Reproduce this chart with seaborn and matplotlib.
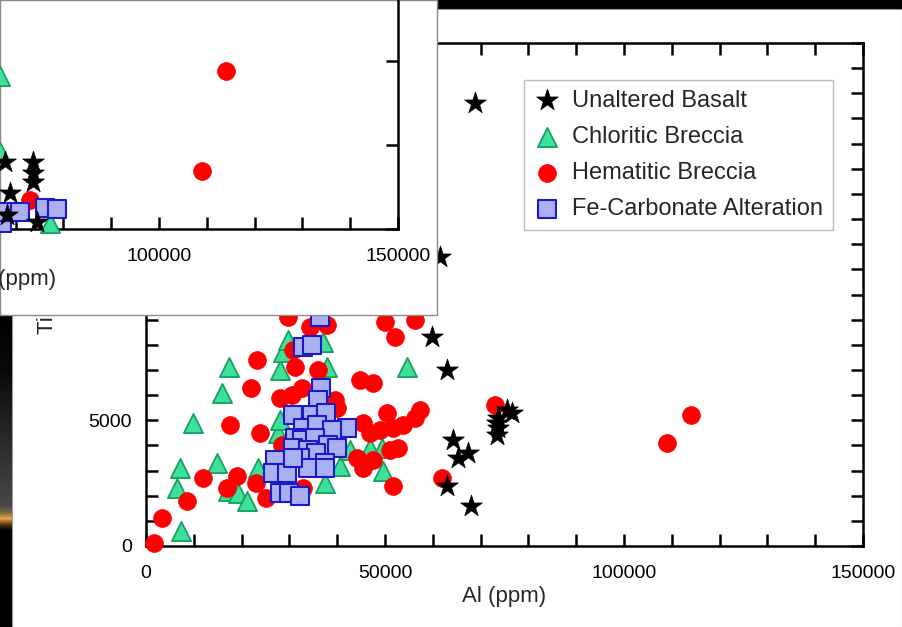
import numpy as np
import pandas as pd
import matplotlib
matplotlib.use("Agg")
import matplotlib.pyplot as plt
from matplotlib.patches import Rectangle
from matplotlib.ticker import FuncFormatter, FixedLocator
import seaborn as sns

# ---------------- data (main chart: Ti vs Al, ppm) ----------------
basalt_al = [68900, 61500, 59900, 63000, 75600, 76600, 73700, 73500, 73700, 73500,
             64300, 65300, 67400, 63000, 68000]
basalt_ti = [17600, 11500, 8300, 7000, 5400, 5300, 5100, 4900, 4700, 4400,
             4200, 3500, 3700, 2400, 1600]

chlor_al = [7300, 6500, 7100, 9800, 15900, 17400, 14900, 17200, 19300, 21100,
            23400, 28000, 28700, 29700, 27600, 28000, 37900, 37000, 40600, 42700,
            46900, 49400, 49600, 37500, 54600]
chlor_ti = [600, 2300, 3100, 4900, 6100, 7100, 3300, 2200, 2100, 1800,
            3100, 7000, 7700, 8200, 4500, 5000, 7100, 8100, 3200, 3800,
            3900, 3900, 3000, 2500, 7100]

hem_al = [1700, 3300, 8600, 11900, 17600, 22000, 23200, 19000, 17000, 23000,
          25100, 28500, 30600, 31200, 30800, 29700, 50000, 52100, 56300, 44800,
          47500, 36000, 37900, 34300, 32600, 39600, 40000, 45400, 50400, 46900,
          49000, 51700, 53800, 57400, 56300, 52700, 51100, 44200, 47500, 45400,
          51700, 28000, 32900, 23900, 73000, 62000, 109000, 114000]
hem_ti = [100, 1100, 1800, 2700, 4800, 6300, 7400, 2800, 2300, 2500,
          1900, 4000, 6000, 7100, 7800, 9100, 8900, 8300, 9000, 6600,
          6500, 7000, 8800, 8700, 6300, 5800, 5500, 4900, 5300, 4500,
          4600, 4700, 4800, 5400, 5100, 3900, 3800, 3500, 3400, 3100,
          2400, 5900, 2300, 4500, 5600, 2700, 4100, 5200]

carb_al = [36400, 32900, 34700, 36600, 36000, 30800, 34700, 37700, 42100, 32900,
           35800, 38900, 31200, 32700, 35400, 38100, 40000, 30800, 33900, 35600,
           37500, 32200, 27000, 26600, 29500, 33900, 37500, 28000, 29900, 32200,
           30800]
carb_ti = [9100, 7900, 8000, 6300, 5800, 5200, 5200, 5300, 4700, 4700,
           4800, 4600, 4300, 4200, 4300, 4000, 3900, 3900, 3800, 3700,
           3300, 3500, 3400, 2900, 2900, 3100, 3100, 2100, 2100, 2000,
           3500]

# ---------------- data (overlapping inset chart, same Al axis) ----------------
in_basalt_al = [67800, 73600, 73600, 73600, 68800, 68200, 74500]
in_basalt_y = [80, 80, 67, 56, 43, 17, 8]
in_hem_al = [73000, 109000, 114000]
in_hem_y = [35, 69, 188]
in_carb_al = [67200, 68400, 70900, 76200, 78700]
in_carb_y = [7, 20, 20, 25, 24]
in_chlor_al = [66700, 66700, 77200]
in_chlor_y = [183, 92, 7]

labels = ["Unaltered Basalt", "Chloritic Breccia", "Hematitic Breccia",
          "Fe-Carbonate Alteration"]
x_ticklabels = [0, 50000, 100000, 150000]
y_ticklabels = [0, 5000, 10000, 15000, 20000]

# ---------------- style ----------------
sns.set_theme(style="white")
plt.rcParams["font.family"] = ["Liberation Sans", "DejaVu Sans"]

W, H = 903, 627
fig = plt.figure(figsize=(W / 100, H / 100), dpi=100)
fig.patch.set_facecolor("black")


def fx(px):
    return px / W


def fy(py):
    return 1 - py / H


# main white panel
fig.add_artist(Rectangle((fx(12), fy(627)), (902 - 12) / W, (627 - 9) / H,
                         transform=fig.transFigure, facecolor="white",
                         edgecolor="#9a9a9a", lw=0.8, zorder=-5))

# decorative left strip (slide background)
strip = fig.add_axes([0, fy(627), 12 / W, (627 - 315) / H], zorder=-4)
rows = np.arange(315, 627)
kp = [315, 370, 505, 512, 518, 524, 530, 627]
r = np.interp(rows, kp, [0.0, 0.04, 0.28, 0.5, 0.9, 0.35, 0.0, 0.0])
g = np.interp(rows, kp, [0.0, 0.04, 0.28, 0.4, 0.65, 0.2, 0.0, 0.0])
b = np.interp(rows, kp, [0.0, 0.04, 0.28, 0.25, 0.25, 0.08, 0.0, 0.0])
strip.imshow(np.stack([r, g, b], axis=-1)[:, None, :], aspect="auto")
strip.axis("off")

styles = {
    "Unaltered Basalt": dict(marker="*", s=270, color="black", edgecolor="black", linewidth=0.5),
    "Chloritic Breccia": dict(marker="^", s=190, color="#3fe09a", edgecolor="#18a060", linewidth=1.3),
    "Hematitic Breccia": dict(marker="o", s=165, color="#ff0000", edgecolor="#ff0000", linewidth=0.5),
    "Fe-Carbonate Alteration": dict(marker="s", s=160, color="#aab0f2", edgecolor="#1a1ac8", linewidth=1.5),
}


def fmt_factory(step):
    return FuncFormatter(lambda v, p: f"{int(round(v))}" if abs(v % step) < 1e-6 else "")


def style_axes(ax, ymax, ystep, ylab_step, xpad, ypad):
    ax.set_xlim(0, 150000)
    ax.set_ylim(0, ymax)
    ax.xaxis.set_major_locator(FixedLocator(np.arange(0, 150001, 10000)))
    ax.yaxis.set_major_locator(FixedLocator(np.arange(0, ymax + 1, ystep)))
    ax.xaxis.set_major_formatter(fmt_factory(50000))
    ax.yaxis.set_major_formatter(fmt_factory(ylab_step))
    ax.tick_params(axis="both", direction="in", length=8.6, width=1.8,
                   top=True, right=True, bottom=True, left=True,
                   labelsize=14, colors="black")
    ax.tick_params(axis="x", pad=xpad)
    ax.tick_params(axis="y", pad=ypad)
    for sp in ax.spines.values():
        sp.set_linewidth(1.8)
        sp.set_color("black")
        sp.set_visible(True)
    ax.set_facecolor("none")


# ---------------- main axes ----------------
ax = fig.add_axes([fx(146), fy(546), 717 / W, 503 / H])
ax.set_zorder(1)
order = [("Chloritic Breccia", chlor_al, chlor_ti),
         ("Hematitic Breccia", hem_al, hem_ti),
         ("Fe-Carbonate Alteration", carb_al, carb_ti),
         ("Unaltered Basalt", basalt_al, basalt_ti)]
for name, xs, ys in order:
    df = pd.DataFrame({"Al": xs, "Ti": ys})
    sns.scatterplot(data=df, x="Al", y="Ti", ax=ax, label=name, zorder=3,
                    clip_on=False, **styles[name])
style_axes(ax, 20000, 1000, 5000, 14, 10)
ax.set_xlabel("Al (ppm)", fontsize=16)
ax.set_ylabel("Ti (ppm)", fontsize=16)
ax.xaxis.set_label_coords(0.5, -0.08)
ax.yaxis.set_label_coords(-0.123, 0.502)

handles, labs = ax.get_legend_handles_labels()
hmap = dict(zip(labs, handles))
leg = ax.legend([hmap[l] for l in labels], labels, loc="upper left",
                bbox_to_anchor=(0.527, 0.926), borderaxespad=0, frameon=True,
                fancybox=False, edgecolor="#aaaaaa", fontsize=17,
                handletextpad=0.45, labelspacing=0.6, borderpad=0.4,
                handlelength=1.2)
leg.get_frame().set_linewidth(1.0)

# ---------------- overlapping inset panel ----------------
fig.add_artist(Rectangle((0, fy(315)), 437 / W, 315 / H,
                         transform=fig.transFigure, facecolor="white",
                         edgecolor="#8a8a8a", lw=1.0, zorder=2.5))

axi = fig.add_axes([fx(-319), fy(229), 717 / W, 503 / H], zorder=3)
inset = [("Chloritic Breccia", in_chlor_al, in_chlor_y),
         ("Hematitic Breccia", in_hem_al, in_hem_y),
         ("Fe-Carbonate Alteration", in_carb_al, in_carb_y),
         ("Unaltered Basalt", in_basalt_al, in_basalt_y)]
for name, xs, ys in inset:
    df = pd.DataFrame({"Al": xs, "v": ys})
    sns.scatterplot(data=df, x="Al", y="v", ax=axi, zorder=3, legend=False,
                    clip_on=False, **styles[name])
style_axes(axi, 600, 100, 100000, 13.5, 10)
axi.tick_params(axis="y", labelleft=False, labelright=False)
axi.set_xlabel("Al (ppm)", fontsize=16)
axi.set_ylabel("")
axi.xaxis.set_label_coords(0.465, -0.08)

fig.savefig("out.png", dpi=100, facecolor=fig.get_facecolor())
